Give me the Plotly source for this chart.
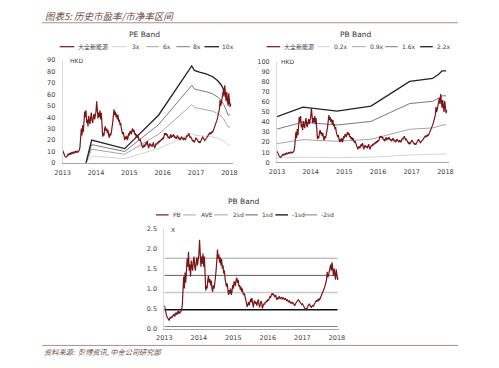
import plotly.graph_objects as go

# browser page has an 8px body margin, so the figure is drawn 8px smaller and
# every target pixel position is shifted by OFF
W, H = 491, 360
OFF = 8

# ---------------- data ----------------
# Daqo New Energy share price (HKD), sampled every 0.02 year from 2013.00
price = [
    11, 9, 8, 6.5, 5.5, 5, 5.5, 6, 7.5, 7, 8, 7, 8.5, 8, 9.5, 8, 9, 10, 8.5, 9.5, 10.5, 9, 10, 9.5, 10.5,
    11, 14, 26, 30, 24, 33, 27, 38, 45, 40, 46, 35, 38, 32, 41, 37, 34, 40, 44, 37, 35, 40, 43, 38, 42,
    45, 54, 46, 39, 44, 40, 46, 38, 44, 36, 23, 26, 24, 30, 32, 28, 30, 26, 29, 24, 22, 26, 24, 27, 30,
    35, 41, 47, 42, 45, 40, 43, 38, 42, 36, 38, 33, 35, 30, 28, 25, 27, 22, 20, 23, 21, 24, 20, 22, 26,
    24, 28, 27, 25, 29, 30, 27, 29, 25, 26, 23, 25, 22, 24, 21, 20, 21, 18, 17, 15, 13, 15, 16, 14, 17,
    18, 16, 19, 15, 13, 16, 17, 15, 16, 14, 17, 18, 15, 13, 15, 17, 16, 18, 17, 19, 18, 20, 19, 21, 20,
    22, 21, 23, 26, 25, 26, 24, 25, 22, 23, 21, 24, 25, 22, 24, 23, 25, 24, 22, 23, 21, 22, 24, 23, 21,
    22, 20, 21, 23, 22, 21, 20, 22, 21, 20, 22, 24, 23, 25, 26, 24, 22, 23, 21, 20, 19, 20, 18, 19, 20,
    22, 21, 20, 19, 18, 18.5, 17.5, 19, 20, 21, 23, 21.5, 20, 19.5, 20.5, 21, 22, 23, 24, 25, 26, 25, 26.5, 26, 27.5,
    27, 28.5, 29.5, 31, 33, 35, 37, 39, 41.5, 44, 47, 55, 50, 53, 57, 60, 64, 58, 68, 61, 54, 62, 56, 50, 61,
    54, 49, 52,
]

# P/B ratio (x), same sampling
pb = [
    0.58, 0.47, 0.42, 0.34, 0.29, 0.26, 0.22, 0.2, 0.27, 0.25, 0.3, 0.27, 0.33, 0.31, 0.37, 0.3, 0.35, 0.4, 0.34, 0.38, 0.44, 0.37, 0.42, 0.4, 0.44,
    0.46, 0.58, 1.05, 1.3, 1.0, 1.4, 1.15, 1.6, 1.75, 1.55, 1.92, 1.45, 1.6, 1.3, 1.7, 1.55, 1.45, 1.7, 1.8, 1.55, 1.45, 1.65, 1.78, 1.58, 1.72,
    1.85, 2.22, 1.88, 1.55, 1.8, 1.62, 1.88, 1.55, 1.8, 1.48, 0.95, 1.07, 1.0, 1.23, 1.32, 1.15, 1.24, 1.08, 1.2, 1.0, 0.92, 1.08, 1.0, 1.12, 1.25,
    1.45, 1.7, 1.98, 1.75, 1.85, 1.65, 1.78, 1.58, 1.74, 1.5, 1.58, 1.38, 1.46, 1.25, 1.17, 1.05, 1.13, 0.92, 0.84, 0.96, 0.88, 1.0, 0.84, 0.92, 1.09,
    1.0, 1.18, 1.14, 1.06, 1.22, 1.27, 1.14, 1.22, 1.05, 1.09, 0.97, 1.05, 0.92, 1.0, 0.88, 0.84, 0.88, 0.75, 0.71, 0.63, 0.54, 0.62, 0.66, 0.58, 0.7,
    0.74, 0.66, 0.76, 0.62, 0.53, 0.66, 0.7, 0.62, 0.66, 0.57, 0.7, 0.73, 0.61, 0.53, 0.61, 0.69, 0.65, 0.5, 0.56, 0.62, 0.6, 0.66, 0.64, 0.7, 0.68,
    0.72, 0.7, 0.76, 0.8, 0.78, 0.84, 0.88, 0.85, 0.87, 0.82, 0.8, 0.84, 0.8, 0.72, 0.76, 0.74, 0.79, 0.8, 0.74, 0.76, 0.78, 0.73, 0.77, 0.75, 0.72,
    0.76, 0.73, 0.7, 0.72, 0.68, 0.66, 0.69, 0.67, 0.64, 0.66, 0.63, 0.65, 0.61, 0.58, 0.57, 0.62, 0.64, 0.66, 0.69, 0.72, 0.7, 0.68, 0.65, 0.63, 0.6,
    0.62, 0.58, 0.55, 0.52, 0.49, 0.5, 0.48, 0.52, 0.55, 0.57, 0.62, 0.58, 0.55, 0.53, 0.56, 0.58, 0.56, 0.6, 0.63, 0.66, 0.7, 0.67, 0.72, 0.7, 0.74,
    0.72, 0.76, 0.79, 0.82, 0.86, 0.92, 0.97, 1.02, 1.08, 1.14, 1.22, 1.42, 1.28, 1.35, 1.45, 1.52, 1.6, 1.45, 1.66, 1.5, 1.32, 1.5, 1.38, 1.22, 1.48,
    1.32, 1.22, 1.28,
]

t_price = [round(2013 + 0.02 * i, 2) for i in range(len(price))]
t_pb = [round(2013 + 0.02 * i, 2) for i in range(len(pb))]

# PE band lines
pe_band_t = [2013.70, 2013.87, 2014.86, 2015.88, 2016.87, 2016.95, 2017.10, 2017.30, 2017.50,
             2017.65, 2017.75, 2017.83, 2017.89, 2017.93, 2017.96, 2018.02]
pe_10x = [0, 20, 12.5, 42, 85, 81, 79.5, 78, 75.5, 72, 68.5, 64, 59, 54, 52.5, 52.5]
pe_8x = [0, 16, 10, 33.6, 68, 64.8, 63.6, 62.4, 60.4, 57.6, 54.8, 51.2, 47.2, 43.2, 42, 42]
pe_6x = [0, 12, 7.5, 25.2, 51, 48.6, 47.7, 46.8, 45.3, 43.2, 41.1, 38.4, 35.4, 32.4, 31.5, 31.5]
pe_3x = [0, 6, 3.75, 12.6, 25.5, 24.3, 23.85, 23.4, 22.65, 21.6, 20.55, 19.2, 17.7, 16.2, 15.75, 15.75]

# PB band lines
pb_band_t = [2013.00, 2013.77, 2014.78, 2015.79, 2016.94, 2017.62, 2017.81, 2017.90, 2018.02]
pb_22x = [45.5, 55, 51, 56, 80.5, 83.5, 88, 91, 91]
pb_16x = [33.1, 40, 37.1, 40.7, 58.5, 60.7, 64, 66.2, 66.2]
pb_09x = [18.6, 22.5, 20.9, 22.9, 32.9, 34.2, 36, 37.2, 37.2]
pb_02x = [4.1, 5.0, 4.6, 5.1, 7.3, 7.6, 8.0, 8.3, 8.3]

# PB statistics (x)
stat_names = ["AVE", "2sd", "1sd", "-1sd", "-2sd"]
stat_values = [0.90, 1.76, 1.33, 0.47, 0.05]
stat_span = [2013.0, 2018.02]

year_ticks = [2013, 2014, 2015, 2016, 2017, 2018]
stock_name = "大全新能源"

# ---------------- styles ----------------
RED = "#7a1518"
C_L1, C_L2, C_L3, C_L4 = "#d4d4d4", "#a6a6a6", "#7a7a7a", "#222222"
TXT = "#404040"
FONT = "DejaVu Sans, Noto Sans CJK SC"


def px(x):
    return (x - OFF) / W


def py(y):
    return 1 - (y - OFF) / H


fig = go.Figure()

# chart 1: PE band
for ys, col, w in [(pe_3x, C_L1, 1), (pe_6x, C_L2, 1), (pe_8x, C_L3, 1), (pe_10x, C_L4, 1.3)]:
    fig.add_trace(go.Scatter(x=pe_band_t, y=ys, mode="lines", line=dict(color=col, width=w),
                             xaxis="x", yaxis="y", showlegend=False, hoverinfo="skip"))
fig.add_trace(go.Scatter(x=t_price, y=price, mode="lines", line=dict(color=RED, width=1.2),
                         xaxis="x", yaxis="y", showlegend=False))

# chart 2: PB band (price)
for ys, col, w in [(pb_02x, C_L1, 1), (pb_09x, C_L2, 1), (pb_16x, C_L3, 1), (pb_22x, C_L4, 1.3)]:
    fig.add_trace(go.Scatter(x=pb_band_t, y=ys, mode="lines", line=dict(color=col, width=w),
                             xaxis="x2", yaxis="y2", showlegend=False, hoverinfo="skip"))
fig.add_trace(go.Scatter(x=t_price, y=price, mode="lines", line=dict(color=RED, width=1.2),
                         xaxis="x2", yaxis="y2", showlegend=False))

# chart 3: PB ratio band
stat_styles = {"AVE": ("#c8c8c8", 1.6), "2sd": ("#a0a0a0", 1), "1sd": ("#606060", 1),
               "-1sd": ("#111111", 1.3), "-2sd": ("#808080", 1)}
for name, v in zip(stat_names, stat_values):
    col, w = stat_styles[name]
    fig.add_trace(go.Scatter(x=stat_span, y=[v, v], mode="lines", line=dict(color=col, width=w),
                             xaxis="x3", yaxis="y3", showlegend=False, hoverinfo="skip"))
fig.add_trace(go.Scatter(x=t_pb, y=pb, mode="lines", line=dict(color=RED, width=1.2),
                         xaxis="x3", yaxis="y3", showlegend=False))


def xdom(x0, x2018, xmax):
    return [px(x0), px(x0 + (x2018 - x0) * (xmax - 2013) / 5)]


axfont = dict(family=FONT, size=6.5, color=TXT)
xcommon = dict(tickvals=year_ticks, showgrid=False, zeroline=False, showline=True,
               linecolor="#a6a6a6", linewidth=1, ticks="", tickfont=axfont, ticklabelstandoff=3)
ycommon = dict(showgrid=False, zeroline=False, showline=True, linecolor="#d9d9d9", linewidth=1,
               ticks="", tickfont=axfont, ticklabelstandoff=5)

fig.update_layout(
    width=W, height=H, autosize=False,
    margin=dict(l=0, r=0, t=0, b=0),
    paper_bgcolor="white", plot_bgcolor="white",
    xaxis=dict(domain=xdom(56, 227.7, 2018.1), range=[2013, 2018.1], anchor="y", **xcommon),
    yaxis=dict(domain=[py(162.3), py(57.3)], range=[0, 90], dtick=10, anchor="x", **ycommon),
    xaxis2=dict(domain=xdom(276.7, 450, 2018.1), range=[2013, 2018.1], anchor="y2", **xcommon),
    yaxis2=dict(domain=[py(161.7), py(59)], range=[0, 100], dtick=10, anchor="x2", **ycommon),
    xaxis3=dict(domain=xdom(160.7, 338.3, 2018.05), range=[2013, 2018.05], anchor="y3", **xcommon),
    yaxis3=dict(domain=[py(331.7), py(229.6)], range=[0, 2.5], dtick=0.5, tickformat=".1f",
                anchor="x3", **ycommon),
)

shapes = []
annotations = []

# header / footer
HDR = "#6b4b3e"
shapes.append(dict(type="line", xref="paper", yref="paper", x0=px(35), x1=px(463), y0=py(19), y1=py(19),
                   line=dict(color="#a8908a", width=1)))
shapes.append(dict(type="line", xref="paper", yref="paper", x0=px(35), x1=px(463), y0=py(349), y1=py(349),
                   line=dict(color="#a8908a", width=1)))
annotations.append(dict(xref="paper", yref="paper", x=px(36), y=py(12), xanchor="left", yanchor="middle",
                        text="<i>图表5: 历史市盈率/市净率区间</i>", showarrow=False,
                        font=dict(family="Noto Sans CJK SC", size=9.5, color=HDR)))
annotations.append(dict(xref="paper", yref="paper", x=px(35), y=py(355.5), xanchor="left", yanchor="middle",
                        text="<i>资料来源:  彭博资讯, 中金公司研究部</i>", showarrow=False,
                        font=dict(family="Noto Sans CJK SC", size=7.2, color=HDR)))

# titles
for cx, cy, txt in [(140, 30.5, "PE Band"), (357.5, 30.5, "PB Band"), (242.5, 202, "PB Band")]:
    annotations.append(dict(xref="paper", yref="paper", x=px(cx), y=py(cy), xanchor="center",
                            yanchor="middle", text=txt, showarrow=False,
                            font=dict(family="DejaVu Sans", size=7.5, color="#333333")))

# unit labels
for ux, uy, txt in [(62, 57.5, "HKD"), (279, 59, "HKD"), (165, 230, "X")]:
    annotations.append(dict(xref="paper", yref="paper", x=px(ux), y=py(uy), xanchor="left", yanchor="middle",
                            text=txt, showarrow=False, font=dict(family="DejaVu Sans", size=6, color=TXT)))

# legends (manual, compact)
legends = [
    (43.5, [stock_name, "3x", "6x", "8x", "10x"], [RED, C_L1, C_L2, C_L3, C_L4], [1.2, 1, 1, 1, 1.3],
     [(53, 68), (107, 122), (142, 155), (173, 187), (202, 217)], [70, 125, 157, 188, 218]),
    (43.5, [stock_name, "0.2x", "0.9x", "1.6x", "2.2x"], [RED, C_L1, C_L2, C_L3, C_L4], [1.2, 1, 1, 1, 1.3],
     [(266, 280), (318, 331), (354, 368), (388, 401), (424, 437)], [282, 333, 370, 403, 439]),
    (215.5, ["PB"] + stat_names, [RED] + [stat_styles[n][0] for n in stat_names],
     [1.2] + [stat_styles[n][1] for n in stat_names],
     [(152, 165), (180, 193), (212, 226), (244, 257), (275, 288), (305, 318)],
     [168, 196, 229, 259, 290, 320]),
]
for ly, labels, cols, widths, segs, txs in legends:
    for lab, col, w, (a, b), tx in zip(labels, cols, widths, segs, txs):
        shapes.append(dict(type="line", xref="paper", yref="paper", x0=px(a), x1=px(b), y0=py(ly), y1=py(ly),
                           line=dict(color=col, width=w)))
        annotations.append(dict(xref="paper", yref="paper", x=px(tx), y=py(ly), xanchor="left",
                                yanchor="middle", text=lab, showarrow=False,
                                font=dict(family=FONT, size=6, color=TXT)))

fig.update_layout(shapes=shapes, annotations=annotations)
fig.write_html("out.html")
